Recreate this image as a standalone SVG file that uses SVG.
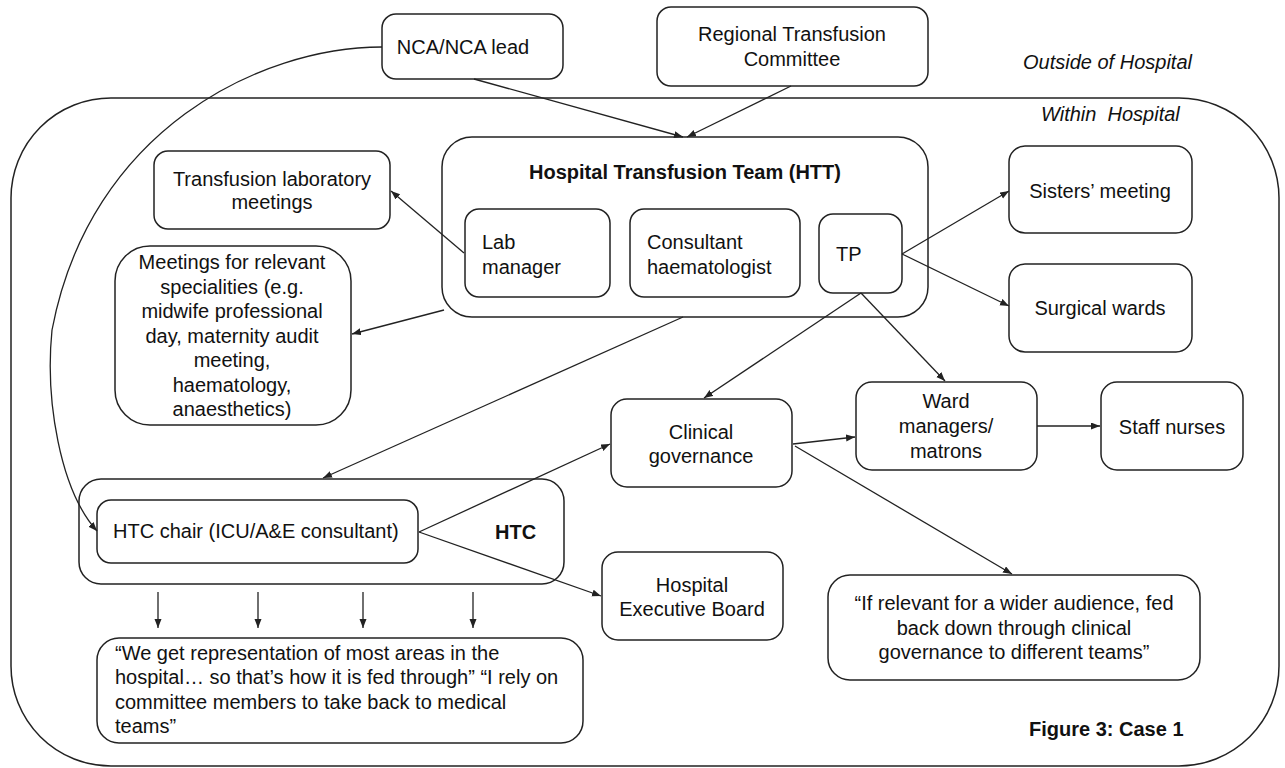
<svg xmlns="http://www.w3.org/2000/svg" width="1285" height="768" viewBox="0 0 1285 768">
<style>
.bx{fill:#fff;stroke:#222;stroke-width:1.5}
.ol{fill:none;stroke:#222;stroke-width:1.5}
.t{font-family:"Liberation Sans",Arial,sans-serif;font-size:20px;fill:#111}
.c{text-anchor:middle}
.b{font-weight:bold}
.i{font-style:italic}
.cn{fill:none;stroke:#222;stroke-width:1.3;marker-end:url(#ah)}
</style>
<defs>
<marker id="ah" markerUnits="userSpaceOnUse" markerWidth="10" markerHeight="8" refX="9" refY="3.5" orient="auto">
<path d="M0,0 L9,3.5 L0,7 z" fill="#222"/>
</marker>
</defs>
<rect width="1285" height="768" fill="#fff"/>
<g id="hospital">
<rect class="ol" x="11" y="98" width="1268" height="668" rx="100" ry="100"/>
<text class="t i" x="1023" y="69">Outside of Hospital</text>
<text class="t i" x="1041" y="121">Within&#160; Hospital</text>
<text class="t b" x="1029" y="736">Figure 3: Case 1</text>
</g>
<g id="nca">
<rect class="bx" x="382" y="14" width="181" height="65" rx="14"/>
<text class="t c" x="463" y="54">NCA/NCA lead</text>
</g>
<g id="rtc">
<rect class="bx" x="657" y="7" width="271" height="79" rx="14"/>
<text class="t c" x="792" y="41">Regional Transfusion</text>
<text class="t c" x="792" y="66">Committee</text>
</g>
<g id="htt">
<rect class="bx" x="442" y="137" width="486" height="180" rx="30"/>
<text class="t c b" x="685" y="179">Hospital Transfusion Team (HTT)</text>
</g>
<g id="lab-manager">
<rect class="bx" x="465" y="209" width="145" height="88" rx="14"/>
<text class="t" x="482" y="249">Lab</text>
<text class="t" x="482" y="274">manager</text>
</g>
<g id="consultant">
<rect class="bx" x="630" y="209" width="170" height="88" rx="14"/>
<text class="t" x="647" y="249">Consultant</text>
<text class="t" x="647" y="274">haematologist</text>
</g>
<g id="tp">
<rect class="bx" x="819" y="214" width="83" height="79" rx="14"/>
<text class="t" x="836" y="261">TP</text>
</g>
<g id="tlm">
<rect class="bx" x="154" y="151" width="236" height="78" rx="14"/>
<text class="t c" x="272" y="186">Transfusion laboratory</text>
<text class="t c" x="272" y="209">meetings</text>
</g>
<g id="meetings">
<rect class="bx" x="115" y="246" width="236" height="179" rx="35"/>
<text class="t c" x="232" y="269">Meetings for relevant</text>
<text class="t c" x="232" y="294">specialities (e.g.</text>
<text class="t c" x="232" y="318">midwife professional</text>
<text class="t c" x="232" y="343">day, maternity audit</text>
<text class="t c" x="232" y="367">meeting,</text>
<text class="t c" x="232" y="392">haematology,</text>
<text class="t c" x="232" y="416">anaesthetics)</text>
</g>
<g id="sisters">
<rect class="bx" x="1009" y="146" width="183" height="87" rx="16"/>
<text class="t c" x="1100" y="198">Sisters’ meeting</text>
</g>
<g id="surgical">
<rect class="bx" x="1009" y="264" width="183" height="88" rx="16"/>
<text class="t c" x="1100" y="315">Surgical wards</text>
</g>
<g id="clinical-governance">
<rect class="bx" x="611" y="399" width="181" height="88" rx="16"/>
<text class="t c" x="701" y="439">Clinical</text>
<text class="t c" x="701" y="463">governance</text>
</g>
<g id="ward-managers">
<rect class="bx" x="856" y="382" width="181" height="88" rx="16"/>
<text class="t c" x="946" y="408">Ward</text>
<text class="t c" x="946" y="433">managers/</text>
<text class="t c" x="946" y="458">matrons</text>
</g>
<g id="staff-nurses">
<rect class="bx" x="1101" y="382" width="142" height="88" rx="16"/>
<text class="t c" x="1172" y="434">Staff nurses</text>
</g>
<g id="exec-board">
<rect class="bx" x="602" y="552" width="181" height="88" rx="16"/>
<text class="t c" x="692" y="592">Hospital</text>
<text class="t c" x="692" y="616">Executive Board</text>
</g>
<g id="if-relevant">
<rect class="bx" x="828" y="575" width="372" height="105" rx="22"/>
<text class="t c" x="1014" y="610">“If relevant for a wider audience, fed</text>
<text class="t c" x="1014" y="635">back down through clinical</text>
<text class="t c" x="1014" y="659">governance to different teams”</text>
</g>
<g id="htc">
<rect class="bx" x="79" y="479" width="485" height="105" rx="22"/>
<text class="t b" x="495" y="539">HTC</text>
</g>
<g id="htc-chair">
<rect class="bx" x="97" y="500" width="321" height="63" rx="14"/>
<text class="t" x="113" y="538">HTC chair (ICU/A&amp;E consultant)</text>
</g>
<g id="quote">
<rect class="bx" x="97" y="638" width="486" height="105" rx="22"/>
<text class="t" x="115" y="660">“We get representation of most areas in the</text>
<text class="t" x="115" y="684">hospital… so that’s how it is fed through” “I rely on</text>
<text class="t" x="115" y="709">committee members to take back to medical</text>
<text class="t" x="115" y="733">teams”</text>
</g>
<g id="connectors">
<path class="cn" d="M382,47 C260,47 90,130 52,330 C45,400 60,490 97,531"/>
<path class="cn" d="M474,79 L683,137"/>
<path class="cn" d="M791,86 L687,137"/>
<path class="cn" d="M464,253 L391,191"/>
<path class="cn" d="M444,310 L352,334"/>
<path class="cn" d="M902,254 L1009,191"/>
<path class="cn" d="M902,254 L1009,306"/>
<path class="cn" d="M861,293 L704,398"/>
<path class="cn" d="M861,293 L945,381"/>
<path class="cn" d="M683,317 L323,478"/>
<path class="cn" d="M419,532 L610,444"/>
<path class="cn" d="M419,532 L601,596"/>
<path class="cn" d="M793,444 L855,437"/>
<path class="cn" d="M1037,426 L1100,426"/>
<path class="cn" d="M795,446 L1012,574"/>
<path class="cn" d="M158,592 L158,628"/>
<path class="cn" d="M258,592 L258,628"/>
<path class="cn" d="M363,592 L363,628"/>
<path class="cn" d="M473,592 L473,628"/>
</g>
</svg>
